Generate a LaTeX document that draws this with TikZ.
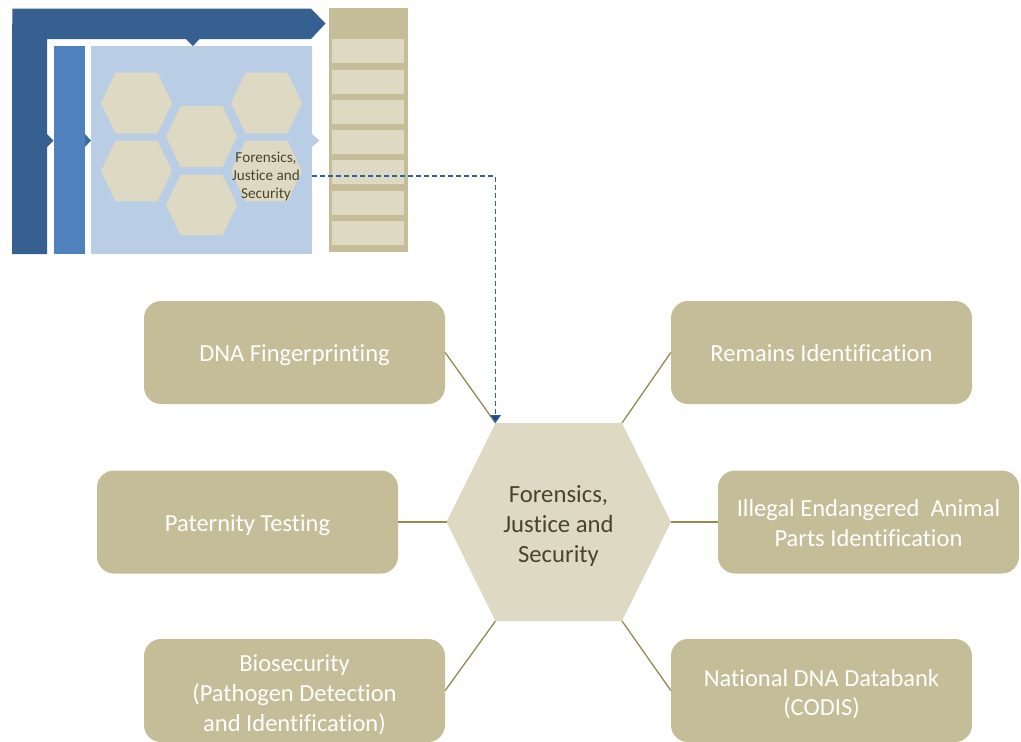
\documentclass[tikz,border=0pt]{standalone}
\usepackage{fontspec}
\setmainfont{Carlito}[Ligatures=CommonOff]
\usetikzlibrary{arrows.meta,calc}
\definecolor{tan}{HTML}{C4BD97}
\definecolor{pale}{HTML}{DDD9C3}
\definecolor{darkblue}{HTML}{36608F}
\definecolor{midblue}{HTML}{4F81BD}
\definecolor{lightblue}{HTML}{B9CDE5}
\definecolor{hextext}{HTML}{4A452A}
\definecolor{linkc}{HTML}{948A54}
\definecolor{dashc}{HTML}{2F62A0}
\definecolor{tipc}{HTML}{1F497D}
\tikzset{
  box/.style={fill=tan,rounded corners=17pt,minimum width=301pt,minimum height=103pt,inner sep=0pt},
  boxtext/.style={inner sep=0pt,text=white,align=center,yshift=-3.3pt,font=\fontsize{24.5}{29.8}\selectfont},
  rect/.style={inner sep=0pt,outer sep=0pt,anchor=north west},
  slot/.style={rect,fill=pale,minimum width=72pt,minimum height=24pt},
  hexfill/.style={fill=pale},
  link/.style={draw=linkc,line width=1.3pt},
  dashlink/.style={draw=dashc,line width=1.2pt,dash pattern=on 5pt off 3pt,-{Triangle[length=8pt,width=11pt,fill=tipc]}}
}
% small hexagon: #1 name, #2 centre x, #3 centre y
\newcommand{\smallhex}[3]{%
  \fill[hexfill] (#2-35.5,#3) -- (#2-21,#3-30.3) -- (#2+21,#3-30.3) -- (#2+35.5,#3)
    -- (#2+21,#3+30.3) -- (#2-21,#3+30.3) -- cycle;
  \coordinate (#1) at (#2,#3);}
\begin{document}
\begin{tikzpicture}[x=1pt,y=-1pt]
\useasboundingbox (0,0) rectangle (1021,742);
% top-left process frame
\fill[darkblue] (12.5,8.5) -- (311,8.5) -- (325.5,23.5) -- (311,39) -- (47,39) -- (47,254) -- (12,254) -- (12,39) -- cycle;
\fill[darkblue] (186,39) -- (199.5,39) -- (193,46) -- cycle;
\fill[darkblue] (47,134) -- (53.5,140.5) -- (47,147) -- cycle;
\node[rect,fill=midblue,minimum width=31pt,minimum height=208pt] (bar) at (54,46) {};
\fill[darkblue!60!midblue] (85,134) -- (91,140.5) -- (85,147) -- cycle;
\node[rect,fill=lightblue,minimum width=221pt,minimum height=208pt] (panel) at (91,46) {};
\fill[lightblue] (312,134) -- (319.5,140.5) -- (312,147) -- cycle;
\smallhex{ha}{136.5}{103}
\smallhex{hb}{136.5}{171}
\smallhex{hc}{201.5}{136.5}
\smallhex{hd}{201.5}{205}
\smallhex{he}{266.5}{103}
\smallhex{hf}{266.5}{171}
\node[text=hextext,align=center,inner sep=0pt,font=\fontsize{15.2}{18}\selectfont] (fjsmall) at (266,176) {Forensics,\\Justice and\\Security};
% right column
\node[rect,fill=tan,minimum width=79pt,minimum height=244pt] (column) at (329,8) {};
\node[slot] (s1) at (332,39) {};
\node[slot] (s2) at (332,70) {};
\node[slot] (s3) at (332,100) {};
\node[slot] (s4) at (332,130) {};
\node[slot] (s5) at (332,160) {};
\node[slot] (s6) at (332,191) {};
\node[slot] (s7) at (332,221) {};
% central hexagon
\fill[hexfill] (446.5,522) coordinate (cw) -- (495.5,423) coordinate (cnw) -- (622,423) coordinate (cne) -- (671,522) coordinate (ce)
   -- (622,621) coordinate (cse) -- (495.5,621) coordinate (csw) -- cycle;
\node[text=hextext,align=center,inner sep=0pt,font=\fontsize{24.7}{30}\selectfont] (centre) at (558.5,526) {Forensics,\\Justice and\\Security};
% outer boxes
\node[box,label={[boxtext,yshift=1pt]center:{DNA Fingerprinting}}] (dna) at (294.5,352.5) {};
\node[box,label={[boxtext,yshift=3pt]center:{Remains Identification}}] (rem) at (821.5,352.5) {};
\node[box,label={[boxtext]center:{Paternity Testing}}] (pat) at (247.5,522) {};
\node[box,label={[boxtext,yshift=2pt]center:{Illegal Endangered\ \ Animal\\Parts Identification}}] (ill) at (868.5,522) {};
\node[box,label={[boxtext,yshift=-0.7pt]center:{Biosecurity\\(Pathogen Detection\\and Identification)}}] (bio) at (294.5,690.5) {};
\node[box,label={[boxtext,yshift=-0.3pt]center:{National DNA Databank\\(CODIS)}}] (nat) at (821.5,690.5) {};
% connectors
\draw[link] (dna.east) -- (cnw);
\draw[link] (rem.west) -- (cne);
\draw[link] (pat.east) -- (cw);
\draw[link] (ill.west) -- (ce);
\draw[link] (bio.east) -- (csw);
\draw[link] (nat.west) -- (cse);
\draw[dashlink] (panel.east |- fjsmall.center) -| (cnw);
\end{tikzpicture}
\end{document}
